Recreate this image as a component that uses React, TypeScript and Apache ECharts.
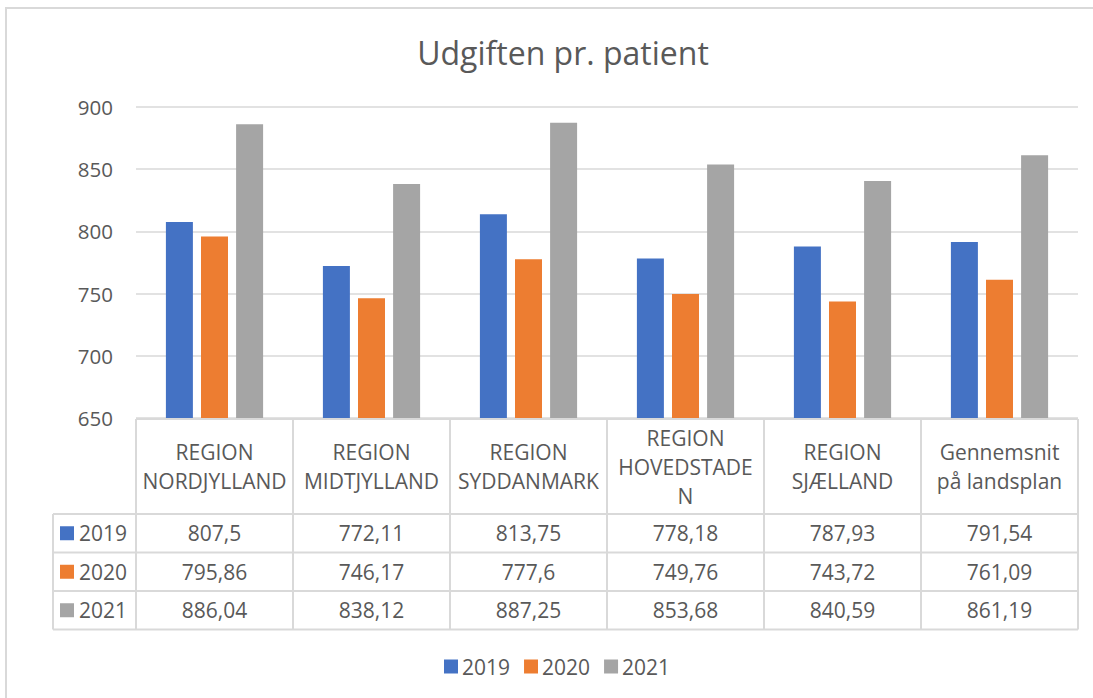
import React, { useEffect, useRef } from "react";
import * as echarts from "echarts";

const categories = [
  "REGION\nNORDJYLLAND",
  "REGION\nMIDTJYLLAND",
  "REGION\nSYDDANMARK",
  "REGION\nHOVEDSTADE\nN",
  "REGION\nSJÆLLAND",
  "Gennemsnit\npå landsplan",
];
const seriesNames = ["2019", "2020", "2021"];
const values2019 = [807.5, 772.11, 813.75, 778.18, 787.93, 791.54];
const values2020 = [795.86, 746.17, 777.6, 749.76, 743.72, 761.09];
const values2021 = [886.04, 838.12, 887.25, 853.68, 840.59, 861.19];
const yTicks = [650, 700, 750, 800, 850, 900];

const colors = ["#4472C4", "#ED7D31", "#A5A5A5"];
const TEXT = "#595959";
const LINE = "#D9D9D9";
const FONT = "'Open Sans', 'Noto Sans', sans-serif";

const GRID_LEFT = 136;
const GRID_RIGHT = 15;
const GRID_TOP = 107;
const GRID_BOTTOM_Y = 418;
const HEADER_H = 95;
const ROW_H = 38.5;
const LABEL_COL_LEFT = 53;

export default function App() {
  const ref = useRef<HTMLDivElement>(null);
  useEffect(() => {
    if (!ref.current) return;
    const chart = echarts.init(ref.current, undefined, { renderer: "svg" });
    const allSeries = [values2019, values2020, values2021];
    const W = 1093;
    const H = 698;
    chart.setOption({
      animation: false,
      backgroundColor: "#fff",
      title: {
        text: "Udgiften pr. patient",
        left: 558,
        top: 31,
        textAlign: "center",
        textStyle: { fontFamily: FONT, fontSize: 32, fontWeight: "normal", color: TEXT },
      },
      legend: {
        data: seriesNames,
        left: 439,
        top: 651,
        icon: "rect",
        itemWidth: 14,
        itemHeight: 14,
        itemGap: 14,
        textStyle: { fontFamily: FONT, fontSize: 21, color: TEXT, padding: [0, 0, 0, -1] },
      },
      grid: {
        left: GRID_LEFT,
        right: GRID_RIGHT,
        top: GRID_TOP,
        bottom: H - GRID_BOTTOM_Y,
        containLabel: false,
      },
      xAxis: {
        type: "category",
        data: categories,
        axisLine: { show: false },
        axisTick: { show: false },
        axisLabel: { show: false },
      },
      yAxis: {
        type: "value",
        min: yTicks[0],
        max: yTicks[yTicks.length - 1],
        interval: 50,
        axisLine: { show: false },
        axisTick: { show: false },
        axisLabel: { fontFamily: FONT, fontSize: 20.5, color: TEXT, margin: 23 },
        splitLine: { lineStyle: { color: LINE, width: 1.5 } },
      },
      series: seriesNames.map((name, i) => ({
        name,
        type: "bar",
        data: allSeries[i],
        barWidth: 27,
        barGap: "30%",
        itemStyle: { color: colors[i] },
      })),
    });

    const x0 = chart.convertToPixel({ xAxisIndex: 0 }, 0) as number;
    const x1 = chart.convertToPixel({ xAxisIndex: 0 }, 1) as number;
    const cellW = x1 - x0;
    const tableTop = GRID_BOTTOM_Y + 1;
    const headerBottom = tableTop + HEADER_H;
    const tableRight = W - GRID_RIGHT;
    const graphics: any[] = [];
    const lineStyle = { stroke: LINE, lineWidth: 2 };
    const cellFont = `21px ${FONT}`;

    graphics.push({
      type: "rect",
      shape: { x: 6, y: 8, width: W + 20, height: H + 20 },
      style: { fill: "none", stroke: LINE, lineWidth: 2 },
      silent: true,
    });

    graphics.push({ type: "line", shape: { x1: GRID_LEFT, y1: tableTop, x2: tableRight, y2: tableTop }, style: lineStyle });
    for (let r = 0; r <= seriesNames.length; r++) {
      const y = headerBottom + r * ROW_H;
      graphics.push({ type: "line", shape: { x1: LABEL_COL_LEFT, y1: y, x2: tableRight, y2: y }, style: lineStyle });
    }
    const tableBottom = headerBottom + seriesNames.length * ROW_H;
    graphics.push({ type: "line", shape: { x1: LABEL_COL_LEFT, y1: headerBottom, x2: LABEL_COL_LEFT, y2: tableBottom }, style: lineStyle });
    for (let c = 0; c <= categories.length; c++) {
      const x = x0 - cellW / 2 + c * cellW;
      graphics.push({ type: "line", shape: { x1: x, y1: tableTop, x2: x, y2: tableBottom }, style: lineStyle });
    }
    categories.forEach((cat, c) => {
      const cx = chart.convertToPixel({ xAxisIndex: 0 }, c) as number;
      graphics.push({
        type: "text",
        x: cx,
        y: tableTop + HEADER_H / 2,
        style: {
          text: cat,
          fill: TEXT,
          font: cellFont,
          align: "center",
          verticalAlign: "middle",
          lineHeight: 29,
        },
      });
    });
    seriesNames.forEach((name, r) => {
      const cy = headerBottom + r * ROW_H + ROW_H / 2;
      graphics.push({
        type: "rect",
        shape: { x: 60, y: cy - 7, width: 14, height: 14 },
        style: { fill: colors[r] },
      });
      graphics.push({
        type: "text",
        x: 79,
        y: cy,
        style: { text: name, fill: TEXT, font: cellFont, align: "left", verticalAlign: "middle" },
      });
      allSeries[r].forEach((v, c) => {
        const cx = chart.convertToPixel({ xAxisIndex: 0 }, c) as number;
        graphics.push({
          type: "text",
          x: cx,
          y: cy,
          style: {
            text: String(v).replace(".", ","),
            fill: TEXT,
            font: cellFont,
            align: "center",
            verticalAlign: "middle",
          },
        });
      });
    });

    chart.setOption({ graphic: graphics });
    return () => chart.dispose();
  }, []);
  return (
    <div
      ref={ref}
      style={{ position: "fixed", left: 0, top: 0, width: 1093, height: 698 }}
    />
  );
}
